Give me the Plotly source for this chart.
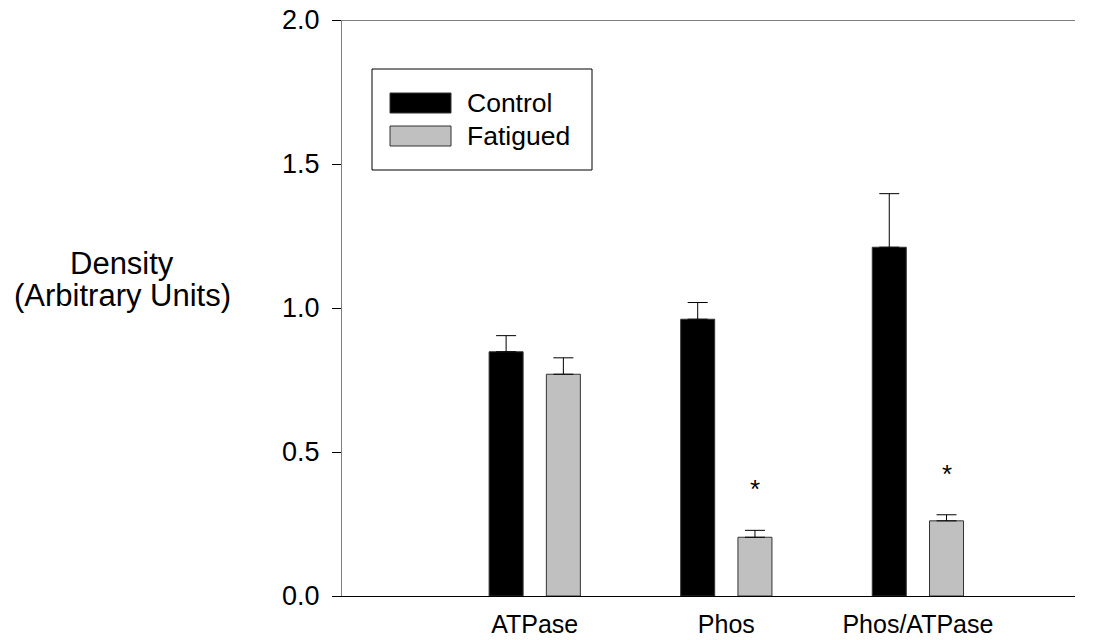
import plotly.graph_objects as go

categories = ["ATPase", "Phos", "Phos/ATPase"]
control_vals = [0.848, 0.961, 1.211]
control_err = [0.056, 0.058, 0.186]
fatigued_vals = [0.770, 0.204, 0.261]
fatigued_err = [0.057, 0.024, 0.021]
significance = ["", "*", "*"]
y_ticks = [0.0, 0.5, 1.0, 1.5, 2.0]
y_title = ["Density", "(Arbitrary Units)"]

FONT = "Liberation Sans, Arial, sans-serif"
BAR_W = 0.1775
HALF_SEP = 0.1494

W, H = 1100, 640
L, R, T, B = 342, 25, 20, 44
pw, ph = W - L - R, H - T - B

def px(xp):
    return (xp - L) / pw

def py(yp):
    return 1 - (yp - T) / ph

fig = go.Figure()
fig.add_trace(go.Bar(
    name="Control", x=categories, y=control_vals, width=BAR_W,
    offset=-HALF_SEP - BAR_W / 2,
    marker=dict(color="#000000", line=dict(color="#333333", width=1)),
    error_y=dict(type="data", array=control_err, arrayminus=[0] * 3, symmetric=False,
                 color="#000000", thickness=1, width=10),
    showlegend=False,
))
fig.add_trace(go.Bar(
    name="Fatigued", x=categories, y=fatigued_vals, width=BAR_W,
    offset=HALF_SEP - BAR_W / 2,
    marker=dict(color="#c0c0c0", line=dict(color="#333333", width=1)),
    error_y=dict(type="data", array=fatigued_err, arrayminus=[0] * 3, symmetric=False,
                 color="#000000", thickness=1, width=10),
    showlegend=False,
))

# significance stars
for cat, s, v, e in zip(categories, significance, fatigued_vals, fatigued_err):
    if s:
        fig.add_annotation(x=cat, y=v + e + 0.15, text=s, showarrow=False,
                           xshift=HALF_SEP * 191.6, yshift=-2,
                           font=dict(family=FONT, size=26, color="#000000"))

# top frame line
fig.add_shape(type="line", xref="paper", yref="y", x0=0, x1=1, y0=2.0, y1=2.0,
              line=dict(color="#000000", width=1))

# manual legend
fig.add_shape(type="rect", xref="paper", yref="paper",
              x0=px(372), x1=px(592), y0=py(69), y1=py(170),
              line=dict(color="#000000", width=1), fillcolor="rgba(0,0,0,0)")
legend_items = [("Control", "#000000", 93), ("Fatigued", "#c0c0c0", 126)]
for name, col, ytop in legend_items:
    fig.add_shape(type="rect", xref="paper", yref="paper",
                  x0=px(390), x1=px(451), y0=py(ytop), y1=py(ytop + 20),
                  line=dict(color="#333333", width=1), fillcolor=col)
    fig.add_annotation(xref="paper", yref="paper", x=px(465), y=py(ytop + 10),
                       text=name, showarrow=False, xanchor="left", yanchor="middle",
                       font=dict(family=FONT, size=26.5, color="#000000"))

# y-axis title (two lines)
for line_txt, yc in zip(y_title, [263, 295]):
    fig.add_annotation(xref="paper", yref="paper", x=px(122), y=py(yc),
                       text=line_txt, showarrow=False,
                       xanchor="center", yanchor="middle", align="center",
                       font=dict(family=FONT, size=31, color="#000000"))

fig.update_layout(
    template="none",
    width=W, height=H,
    margin=dict(l=L, r=R, t=T, b=B, autoexpand=False),
    paper_bgcolor="white", plot_bgcolor="white",
    barmode="overlay",
    showlegend=False,
    hovermode=False,
    font=dict(family=FONT, color="#000000"),
    xaxis=dict(type="category", range=[-1.006, 2.82], showgrid=False, zeroline=False,
               showline=True, linecolor="#000000", linewidth=1, ticks="",
               tickfont=dict(size=25), ticklabelstandoff=6, automargin=False),
    yaxis=dict(range=[0, 2.0], tickvals=y_ticks, ticktext=[f"{v:.1f}" for v in y_ticks],
               showgrid=False, zeroline=False, showline=True, linecolor="#7f7f7f",
               linewidth=1, ticks="outside", ticklen=9, tickcolor="#000000",
               tickfont=dict(size=27), ticklabelstandoff=7, automargin=False,
               ticklabeloverflow="allow"),
)

fig.write_html("out.html", config={"displayModeBar": False},
               post_script="document.body.style.margin='0px';document.body.style.overflow='hidden';")
